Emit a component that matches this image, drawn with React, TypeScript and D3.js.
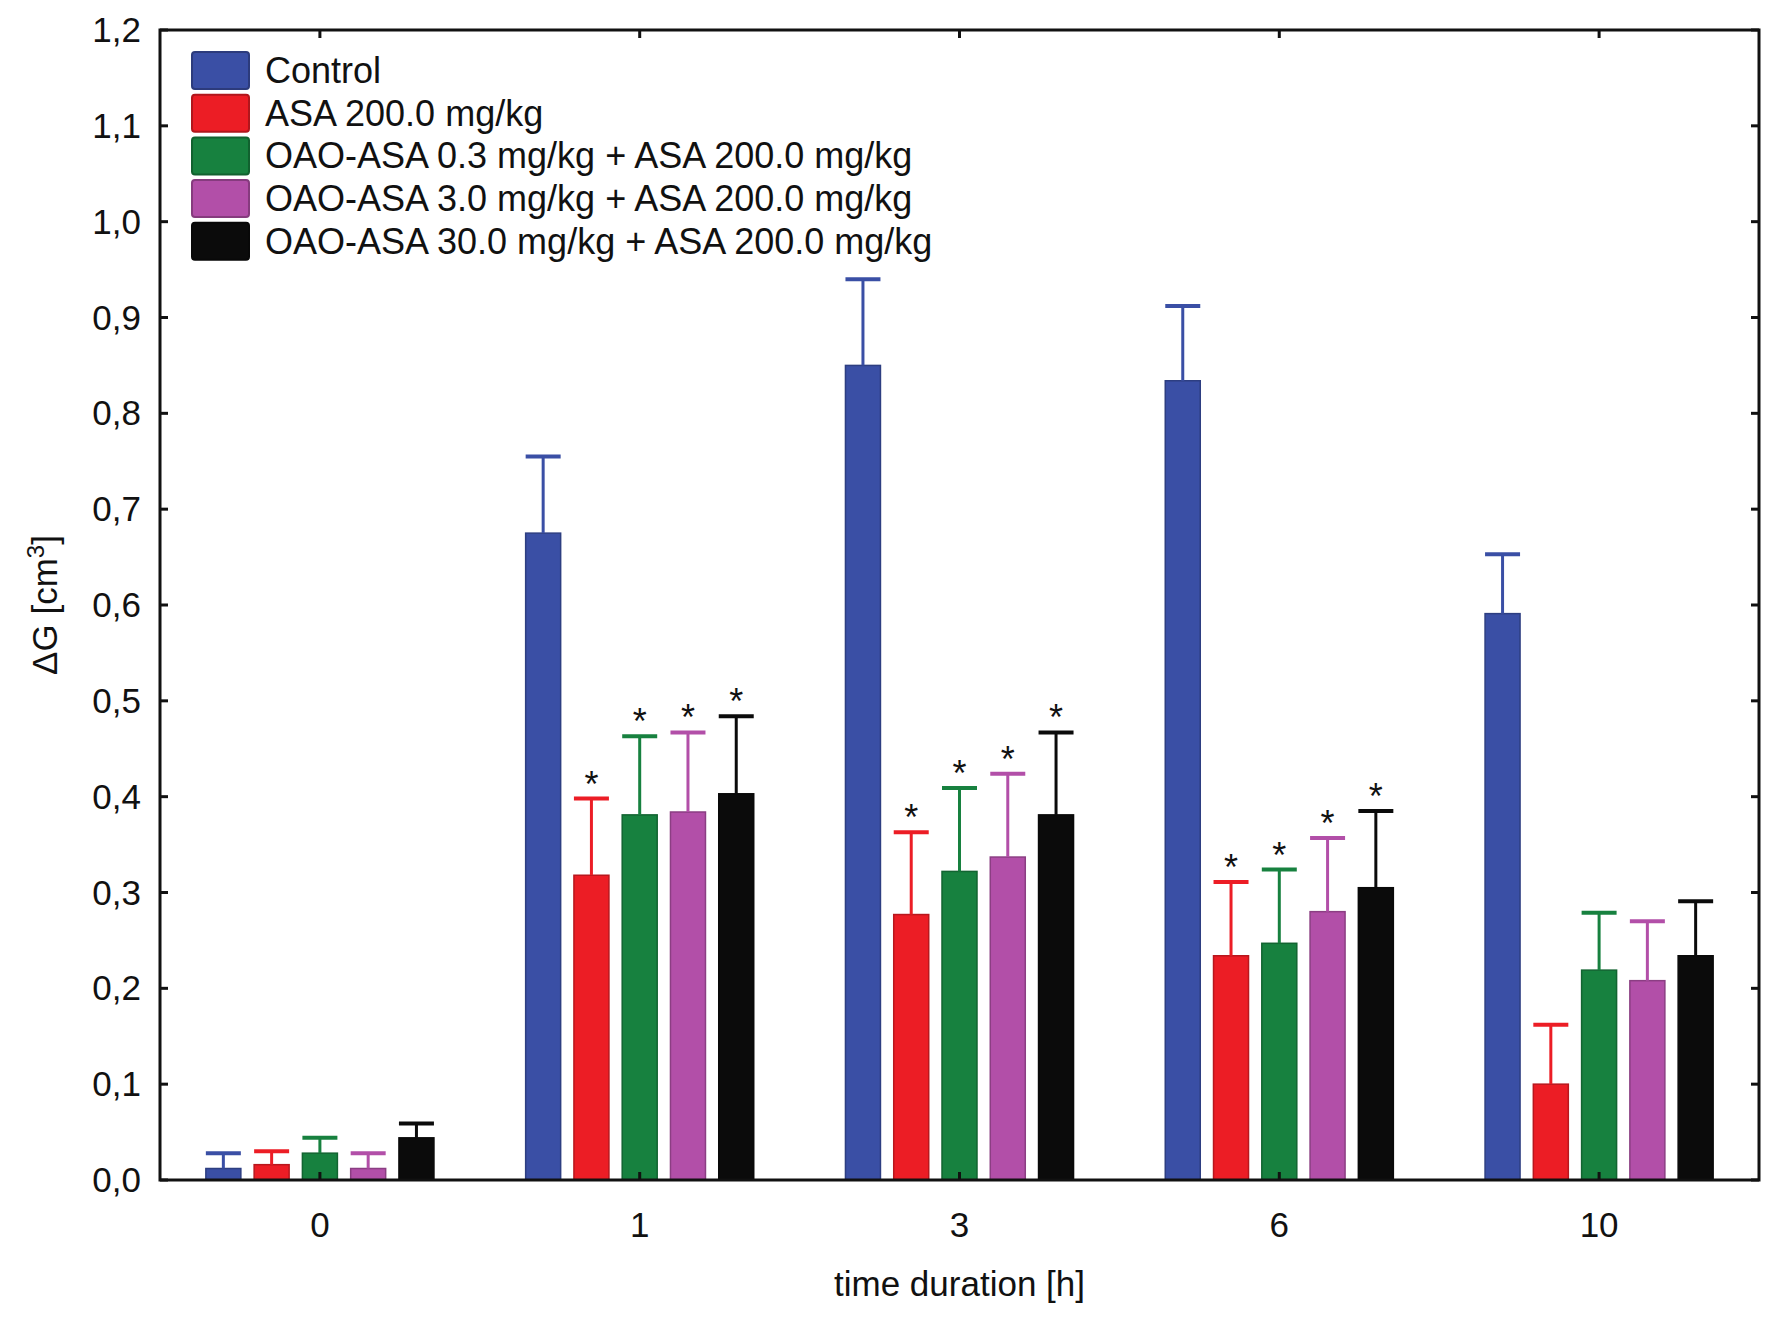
import * as d3 from "d3";
import { useEffect, useRef } from "react";

// time points (x categories)
const timePoints = ["0", "1", "3", "6", "10"];

const seriesNames = [
  "Control",
  "ASA 200.0 mg/kg",
  "OAO-ASA 0.3 mg/kg + ASA 200.0 mg/kg",
  "OAO-ASA 3.0 mg/kg + ASA 200.0 mg/kg",
  "OAO-ASA 30.0 mg/kg + ASA 200.0 mg/kg",
];
const seriesColors = ["#3a4fa5", "#ec1d25", "#17813f", "#b24fa8", "#0b0b0b"];

// mean values and standard errors
const controlMean = [0.012, 0.675, 0.85, 0.834, 0.591];
const controlSE = [0.016, 0.08, 0.09, 0.078, 0.062];
const controlSig = [false, false, false, false, false];

const asaMean = [0.016, 0.318, 0.277, 0.234, 0.1];
const asaSE = [0.014, 0.08, 0.086, 0.077, 0.062];
const asaSig = [false, true, true, true, false];

const oao03Mean = [0.028, 0.381, 0.322, 0.247, 0.219];
const oao03SE = [0.016, 0.082, 0.087, 0.077, 0.06];
const oao03Sig = [false, true, true, true, false];

const oao3Mean = [0.012, 0.384, 0.337, 0.28, 0.208];
const oao3SE = [0.016, 0.083, 0.087, 0.077, 0.062];
const oao3Sig = [false, true, true, true, false];

const oao30Mean = [0.044, 0.403, 0.381, 0.305, 0.234];
const oao30SE = [0.015, 0.081, 0.086, 0.08, 0.057];
const oao30Sig = [false, true, true, true, false];

const yTicks = [0, 0.1, 0.2, 0.3, 0.4, 0.5, 0.6, 0.7, 0.8, 0.9, 1.0, 1.1, 1.2];

const FONT = "'Liberation Sans', Arial, sans-serif";

export default function App() {
  const svgRef = useRef<SVGSVGElement | null>(null);

  useEffect(() => {
    if (!svgRef.current) return;
    const svg = d3.select(svgRef.current);
    svg.selectAll("*").remove();

    const width = 1772;
    const height = 1326;
    const margin = { top: 30, right: 13, bottom: 146, left: 160 };
    const innerW = width - margin.left - margin.right;
    const innerH = height - margin.top - margin.bottom;

    svg.attr("width", width).attr("height", height);

    const series = seriesNames.map((name, i) => ({
      name,
      color: seriesColors[i],
      mean: [controlMean, asaMean, oao03Mean, oao3Mean, oao30Mean][i],
      se: [controlSE, asaSE, oao03SE, oao3SE, oao30SE][i],
      sig: [controlSig, asaSig, oao03Sig, oao3Sig, oao30Sig][i],
    }));

    const x0 = d3.scaleBand().domain(timePoints).range([0, innerW]).padding(0);
    const x1 = d3
      .scaleBand()
      .domain(seriesNames)
      .range([0, x0.bandwidth()])
      .paddingInner(0.275)
      .paddingOuter(0.95);
    const y = d3.scaleLinear().domain([0, 1.2]).range([innerH, 0]);

    const g = svg.append("g").attr("transform", `translate(${margin.left},${margin.top})`);

    // bars
    series.forEach((s) => {
      const grp = g.append("g");
      const bw = x1.bandwidth();
      timePoints.forEach((t, j) => {
        const bx = x0(t)! + x1(s.name)!;
        const top = y(s.mean[j]);
        const errTop = y(s.mean[j] + s.se[j]);
        grp
          .append("rect")
          .attr("x", bx)
          .attr("y", top)
          .attr("width", bw)
          .attr("height", y(0) - top)
          .attr("fill", s.color)
          .attr("stroke", d3.color(s.color)!.darker(0.7).toString())
          .attr("stroke-width", 1.5);
        grp
          .append("line")
          .attr("x1", bx + bw / 2)
          .attr("x2", bx + bw / 2)
          .attr("y1", top)
          .attr("y2", errTop)
          .attr("stroke", s.color)
          .attr("stroke-width", 3);
        grp
          .append("line")
          .attr("x1", bx)
          .attr("x2", bx + bw)
          .attr("y1", errTop)
          .attr("y2", errTop)
          .attr("stroke", s.color)
          .attr("stroke-width", 4);
        if (s.sig[j]) {
          grp
            .append("text")
            .attr("x", bx + bw / 2)
            .attr("y", errTop - 2)
            .attr("text-anchor", "middle")
            .attr("font-family", FONT)
            .attr("font-size", 36)
            .attr("fill", "#111")
            .text("*");
        }
      });
    });

    // frame
    g.append("rect")
      .attr("x", 0)
      .attr("y", 0)
      .attr("width", innerW)
      .attr("height", innerH)
      .attr("fill", "none")
      .attr("stroke", "#111")
      .attr("stroke-width", 3);

    // y ticks (inside, left and right)
    const fmt = (v: number) => d3.format(".1f")(v).replace(".", ",");
    yTicks.forEach((v) => {
      const yy = y(v);
      g.append("line").attr("x1", 0).attr("x2", 8).attr("y1", yy).attr("y2", yy).attr("stroke", "#111").attr("stroke-width", 3);
      g.append("line").attr("x1", innerW - 8).attr("x2", innerW).attr("y1", yy).attr("y2", yy).attr("stroke", "#111").attr("stroke-width", 3);
      g.append("text")
        .attr("x", -19)
        .attr("y", yy + 12)
        .attr("text-anchor", "end")
        .attr("font-family", FONT)
        .attr("font-size", 35)
        .attr("fill", "#111")
        .text(fmt(v));
    });

    // x ticks (inside, top and bottom) and labels
    timePoints.forEach((t) => {
      const xx = x0(t)! + x0.bandwidth() / 2;
      g.append("line").attr("x1", xx).attr("x2", xx).attr("y1", 0).attr("y2", 8).attr("stroke", "#111").attr("stroke-width", 3);
      g.append("line").attr("x1", xx).attr("x2", xx).attr("y1", innerH - 8).attr("y2", innerH).attr("stroke", "#111").attr("stroke-width", 3);
      g.append("text")
        .attr("x", xx)
        .attr("y", innerH + 57)
        .attr("text-anchor", "middle")
        .attr("font-family", FONT)
        .attr("font-size", 35)
        .attr("fill", "#111")
        .text(t);
    });

    // axis titles
    g.append("text")
      .attr("x", innerW / 2)
      .attr("y", innerH + 116)
      .attr("text-anchor", "middle")
      .attr("font-family", FONT)
      .attr("font-size", 35)
      .attr("fill", "#111")
      .text("time duration [h]");

    const yTitle = svg
      .append("text")
      .attr("transform", `translate(57, ${margin.top + innerH / 2}) rotate(-90)`)
      .attr("text-anchor", "middle")
      .attr("font-family", FONT)
      .attr("font-size", 35)
      .attr("fill", "#111");
    yTitle.append("tspan").text("\u0394G [cm");
    yTitle.append("tspan").attr("font-size", 24).attr("dy", -13).text("3");
    yTitle.append("tspan").attr("dy", 13).text("]");

    // legend
    const legend = svg.append("g");
    series.forEach((s, i) => {
      const cy = 70 + i * 42.7;
      legend
        .append("rect")
        .attr("x", 192)
        .attr("y", cy - 18)
        .attr("width", 57)
        .attr("height", 37)
        .attr("rx", 3)
        .attr("fill", s.color)
        .attr("stroke", d3.color(s.color)!.darker(0.8).toString())
        .attr("stroke-width", 2);
      legend
        .append("text")
        .attr("x", 265)
        .attr("y", cy + 13)
        .attr("font-family", FONT)
        .attr("font-size", 36)
        .attr("fill", "#111")
        .text(s.name);
    });
  }, []);

  return (
    <div style={{ position: "absolute", left: 0, top: 0, background: "#fff" }}>
      <svg ref={svgRef} style={{ display: "block" }}></svg>
    </div>
  );
}
